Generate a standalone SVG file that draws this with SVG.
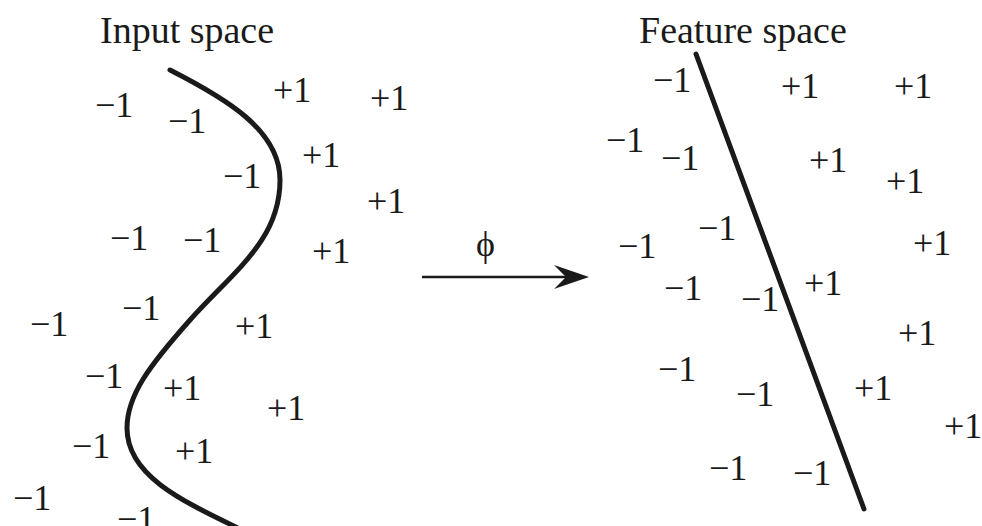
<svg xmlns="http://www.w3.org/2000/svg" width="982" height="526" viewBox="0 0 982 526">
<style>
text{font-family:"Liberation Serif","Times New Roman",serif;font-size:36px;fill:#1a1a1a}
.t{font-size:38px}
.b{fill:none;stroke:#1a1a1a;stroke-width:5;stroke-linecap:round}
</style>
<rect width="982" height="526" fill="#fff"/>
<g id="input-space">
<text class="t" x="100" y="43">Input space</text>
<path class="b" d="M170,70 C225,98 280,130 280,180 C280,240 235,270 190,320 C150,365 127,395 127,428 C127,475 180,500 240,529"/>
<text x="95" y="117">−1</text>
<text x="168" y="133">−1</text>
<text x="273" y="102">+1</text>
<text x="370" y="110">+1</text>
<text x="302" y="167">+1</text>
<text x="223" y="188">−1</text>
<text x="367" y="213">+1</text>
<text x="110" y="250">−1</text>
<text x="183" y="252">−1</text>
<text x="312" y="263">+1</text>
<text x="122" y="320">−1</text>
<text x="30" y="336">−1</text>
<text x="235" y="338">+1</text>
<text x="85" y="388">−1</text>
<text x="163" y="400">+1</text>
<text x="267" y="420">+1</text>
<text x="72" y="458">−1</text>
<text x="175" y="463">+1</text>
<text x="13" y="510">−1</text>
<text x="117" y="531">−1</text>
</g>
<g id="connectors">
<line x1="422" y1="277" x2="566" y2="277" stroke="#1a1a1a" stroke-width="2.5"/>
<path d="M589,277 L554,265 L566,277 L554,289 Z" fill="#1a1a1a"/>
<text x="476" y="256">ϕ</text>
</g>
<g id="feature-space">
<text class="t" x="639" y="43">Feature space</text>
<line class="b" x1="696" y1="54" x2="864" y2="509"/>
<text x="653" y="92">−1</text>
<text x="781" y="98">+1</text>
<text x="894" y="98">+1</text>
<text x="606" y="152">−1</text>
<text x="661" y="170">−1</text>
<text x="809" y="172">+1</text>
<text x="886" y="193">+1</text>
<text x="698" y="240">−1</text>
<text x="618" y="258">−1</text>
<text x="913" y="255">+1</text>
<text x="664" y="300">−1</text>
<text x="741" y="311">−1</text>
<text x="804" y="295">+1</text>
<text x="898" y="345">+1</text>
<text x="658" y="381">−1</text>
<text x="736" y="406">−1</text>
<text x="854" y="400">+1</text>
<text x="944" y="438">+1</text>
<text x="709" y="480">−1</text>
<text x="793" y="485">−1</text>
</g>
</svg>
